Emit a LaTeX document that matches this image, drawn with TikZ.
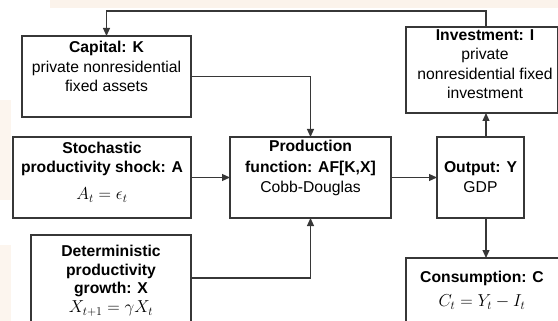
\documentclass[tikz,border=0pt]{standalone}
\usepackage[no-math]{fontspec}
\setmainfont{Liberation Sans}
\usetikzlibrary{arrows.meta}
\definecolor{peach}{RGB}{250,238,226}
\definecolor{lineg}{RGB}{55,55,55}
\begin{document}
\begin{tikzpicture}[x=1pt,y=-1pt,
  box/.style={draw=lineg, line width=1.3pt, minimum width=#1, anchor=north west, inner sep=0pt, outer sep=0pt},
  conn/.style={draw=lineg, line width=1.2pt},
  arr/.style={conn, -{Triangle[length=8pt,width=7pt]}},
  txt/.style={font=\fontsize{15.7}{19.5}\selectfont, inner sep=0pt, anchor=base},
  mth/.style={font=\fontsize{17.5}{20}\selectfont, inner sep=0pt, anchor=base}]
\useasboundingbox (0,0) rectangle (558,321);
\clip (0,0) rectangle (558,321);
% faint background watermark
\fill[peach!70] (50,0) rectangle (558,8);
\fill[peach!60] (0,100) rectangle (11,200);
\fill[peach!60] (0,245) rectangle (11,321);
% boxes
\node[box=169pt, minimum height=81pt] (cap) at (22,36) {};
\node[box=151.5pt, minimum height=86pt] (inv) at (406,27) {};
\node[box=178pt, minimum height=81pt] (sto) at (13,137) {};
\node[box=161pt, minimum height=81pt] (prod) at (230,137) {};
\node[box=87pt, minimum height=81pt] (out) at (437,137) {};
\node[box=160pt, minimum height=100pt] (det) at (31,235) {};
\node[box=164pt, minimum height=82pt] (cons) at (406,258) {};
% texts
\node[txt] (capA) at (106.5,53) {\textbf{Capital: K}};
\node[txt] (capB) at (106.5,72.5) {private nonresidential};
\node[txt] (capC) at (106.5,92) {fixed assets};
\node[txt] (invA) at (485,40.7) {\textbf{Investment: I}};
\node[txt] (invB) at (485,59.7) {private};
\node[txt] (invC) at (485,79.2) {nonresidential fixed};
\node[txt] (invD) at (485,99) {investment};
\node[txt] (stoA) at (102,153.3) {\textbf{Stochastic}};
\node[txt] (stoB) at (102,172.7) {\textbf{productivity shock: A}};
\node[mth] (stoC) at (102,200) {$A_t=\epsilon_t$};
\node[txt] (prodA) at (310.5,152) {\textbf{Production}};
\node[txt] (prodB) at (310.5,172.7) {\textbf{function: AF[K,X]}};
\node[txt] (prodC) at (310.5,193) {Cobb-Douglas};
\node[txt] (outA) at (480.5,173) {\textbf{Output: Y}};
\node[txt] (outB) at (480.5,193) {GDP};
\node[txt] (detA) at (111,256.7) {\textbf{Deterministic}};
\node[txt] (detB) at (111,275.5) {\textbf{productivity}};
\node[txt] (detC) at (111,294) {\textbf{growth: X}};
\node[mth] (detD) at (111,312.5) {$X_{t+1}=\gamma X_t$};
\node[txt] (consA) at (482,282.7) {\textbf{Consumption: C}};
\node[mth] (consB) at (482,306.5) {$C_t=Y_t-I_t$};
% connectors
\coordinate (fb) at (486,11);
\coordinate (detout) at (191,278);
\draw[arr] (inv.north -| fb) -- (fb) -| (cap.north);
\draw[arr] (cap.east) -| (prod.north);
\draw[arr] (sto.east) -- (prod.west);
\draw[arr] (prod.east) -- (out.west);
\draw[arr] (out.north -| fb) -- (inv.south -| fb);
\draw[arr] (out.south -| fb) -- (cons.north -| fb);
\draw[arr] (detout) -| (prod.south);
\end{tikzpicture}
\end{document}
